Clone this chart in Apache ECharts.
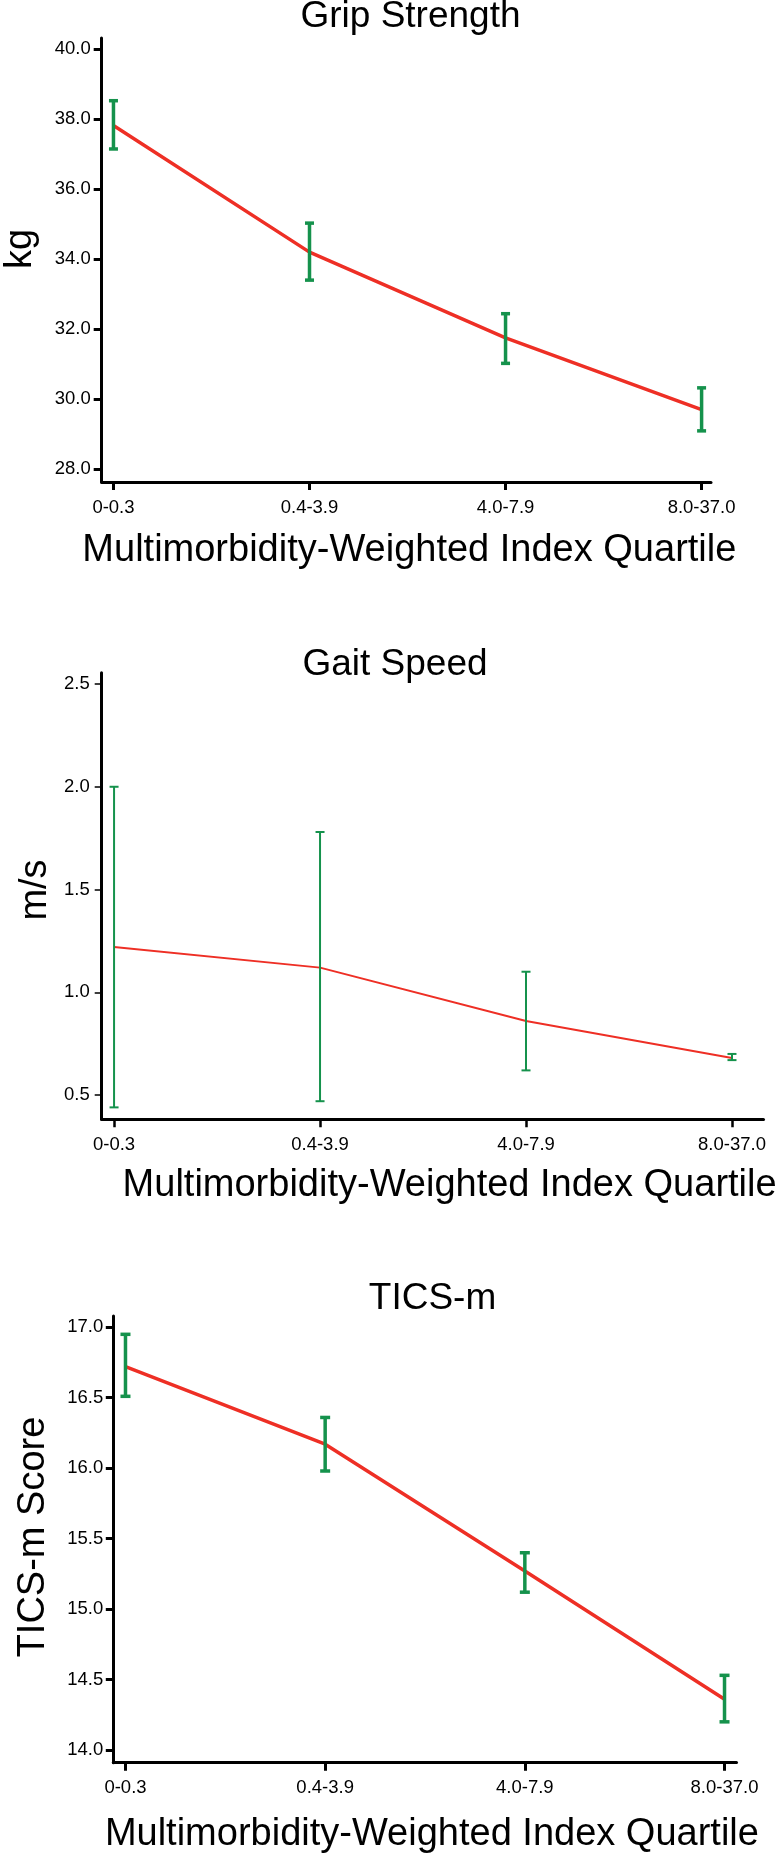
<!DOCTYPE html>
<html><head><meta charset="utf-8">
<script src="https://cdn.jsdelivr.net/npm/echarts@6/dist/echarts.min.js"></script>
<style>html,body{margin:0;padding:0;background:#fff;} #c{width:784px;height:1859px;}</style>
</head><body><div id="c"></div>
<script>
const categories = ['0-0.3', '0.4-3.9', '4.0-7.9', '8.0-37.0'];
const catIndex = [0, 1, 2, 3];

const gripMean = [37.82, 34.20, 31.75, 29.70];
const gripLow  = [37.15, 33.40, 31.02, 29.09];
const gripHigh = [38.53, 35.03, 32.44, 30.32];

const gaitMean = [1.22, 1.12, 0.86, 0.68];
const gaitLow  = [0.44, 0.47, 0.62, 0.67];
const gaitHigh = [2.00, 1.78, 1.10, 0.70];

const ticsMean = [16.72, 16.17, 15.27, 14.36];
const ticsLow  = [16.51, 15.98, 15.12, 14.20];
const ticsHigh = [16.95, 16.36, 15.40, 14.53];

const gripTicks = [28, 30, 32, 34, 36, 38, 40];
const gaitTicks = [0.5, 1.0, 1.5, 2.0, 2.5];
const ticsTicks = [14.0, 14.5, 15.0, 15.5, 16.0, 16.5, 17.0];

const titles = ['Grip Strength', 'Gait Speed', 'TICS-m'];
const yNames = ['kg', 'm/s', 'TICS-m Score'];
const xName = 'Multimorbidity-Weighted Index Quartile';

const RED = '#ee2f25';
const GREEN = '#15924c';
const FONT = '"Liberation Sans", Arial, Helvetica, sans-serif';
const TICK_FONT = 18.5;

const layout = [
  {grid:{left:101.7, top:38, width:609.3, height:444}, xr:[-0.060, 3.048], yr:[27.628, 40.323],
   lw:3.5, bw:3.5, cap:4.5, yTickW:3, yTickLen:8, xTickW:3, xTickLen:8, yMargin:11, xMargin:16,
   nameGap:50, nameShift:3, title:{x:410.5, top:-1.5}, yname:{x:21, y:249}},
  {grid:{left:101.7, top:672.7, width:661.8, height:446.6}, xr:[-0.060, 3.153], yr:[0.382, 2.555],
   lw:2, bw:2, cap:4.5, yTickW:1.5, yTickLen:7, xTickW:2.5, xTickLen:8, yMargin:12, xMargin:16,
   nameGap:47, nameShift:17, title:{x:395, top:646}, yname:{x:36, y:890}},
  {grid:{left:113.3, top:1316, width:623.2, height:446.7}, xr:[-0.061, 3.06], yr:[13.91, 17.08],
   lw:3.5, bw:3.5, cap:5, yTickW:3, yTickLen:7.5, xTickW:3, xTickLen:8, yMargin:10, xMargin:16,
   nameGap:53, nameShift:7, title:{x:432.5, top:1280.5}, yname:{x:34, y:1537}}
];

const panelData = [
  {mean:gripMean, low:gripLow, high:gripHigh, ticks:gripTicks},
  {mean:gaitMean, low:gaitLow, high:gaitHigh, ticks:gaitTicks},
  {mean:ticsMean, low:ticsLow, high:ticsHigh, ticks:ticsTicks}
];

const option = {
  backgroundColor: '#fff',
  animation: false,
  title: [], grid: [], xAxis: [], yAxis: [], series: [], graphic: []
};

layout.forEach((L, i) => {
  const D = panelData[i];
  option.title.push({
    text: titles[i], left: L.title.x, top: L.title.top, textAlign: 'center', padding: 0,
    textStyle: {fontFamily: FONT, fontSize: 37, fontWeight: 'normal', color: '#000'}
  });
  option.grid.push(Object.assign({containLabel: false}, L.grid));
  option.xAxis.push({
    gridIndex: i, type: 'value', min: L.xr[0], max: L.xr[1],
    name: xName, nameLocation: 'middle', nameGap: L.nameGap,
    nameTextStyle: {fontFamily: FONT, fontSize: 38, color: '#000', padding: [0, 0, 0, 2 * L.nameShift]},
    axisLine: {show: true, onZero: false, lineStyle: {color: '#000', width: 3}},
    axisTick: {show: true, length: L.xTickLen, customValues: catIndex, lineStyle: {color: '#000', width: L.xTickW}},
    axisLabel: {customValues: catIndex, margin: L.xMargin, fontFamily: FONT, fontSize: TICK_FONT, color: '#000',
      formatter: v => categories[Math.round(v)]},
    splitLine: {show: false}
  });
  option.yAxis.push({
    gridIndex: i, type: 'value', min: L.yr[0], max: L.yr[1],
    axisLine: {show: true, onZero: false, lineStyle: {color: '#000', width: 3}},
    axisTick: {show: true, length: L.yTickLen, customValues: D.ticks, lineStyle: {color: '#000', width: L.yTickW}},
    axisLabel: {customValues: D.ticks, margin: L.yMargin, fontFamily: FONT, fontSize: TICK_FONT, color: '#000',
      formatter: v => Number(v).toFixed(1)},
    splitLine: {show: false}
  });
  option.series.push({
    type: 'line', xAxisIndex: i, yAxisIndex: i,
    data: D.mean.map((v, k) => [catIndex[k], v]),
    showSymbol: false, symbol: 'none', z: 2,
    lineStyle: {color: RED, width: L.lw}
  });
  option.series.push({
    type: 'custom', xAxisIndex: i, yAxisIndex: i, z: 3,
    data: D.low.map((v, k) => [catIndex[k], v, D.high[k]]),
    encode: {x: 0, y: [1, 2]},
    renderItem: (params, api) => {
      const x = api.value(0);
      const pLo = api.coord([x, api.value(1)]);
      const pHi = api.coord([x, api.value(2)]);
      const st = {stroke: GREEN, lineWidth: L.bw, fill: null};
      return {type: 'group', children: [
        {type: 'line', shape: {x1: pLo[0], y1: pLo[1], x2: pHi[0], y2: pHi[1]}, style: st},
        {type: 'line', shape: {x1: pLo[0] - L.cap, y1: pLo[1], x2: pLo[0] + L.cap, y2: pLo[1]}, style: st},
        {type: 'line', shape: {x1: pHi[0] - L.cap, y1: pHi[1], x2: pHi[0] + L.cap, y2: pHi[1]}, style: st}
      ]};
    }
  });
  option.graphic.push({
    type: 'text', x: L.yname.x, y: L.yname.y, rotation: Math.PI / 2,
    style: {text: yNames[i], fontFamily: FONT, fontSize: 38, fill: '#000', align: 'center', verticalAlign: 'middle'}
  });
});

const chart = echarts.init(document.getElementById('c'), null, {renderer: 'canvas'});
chart.setOption(option);
</script>
</body></html>
